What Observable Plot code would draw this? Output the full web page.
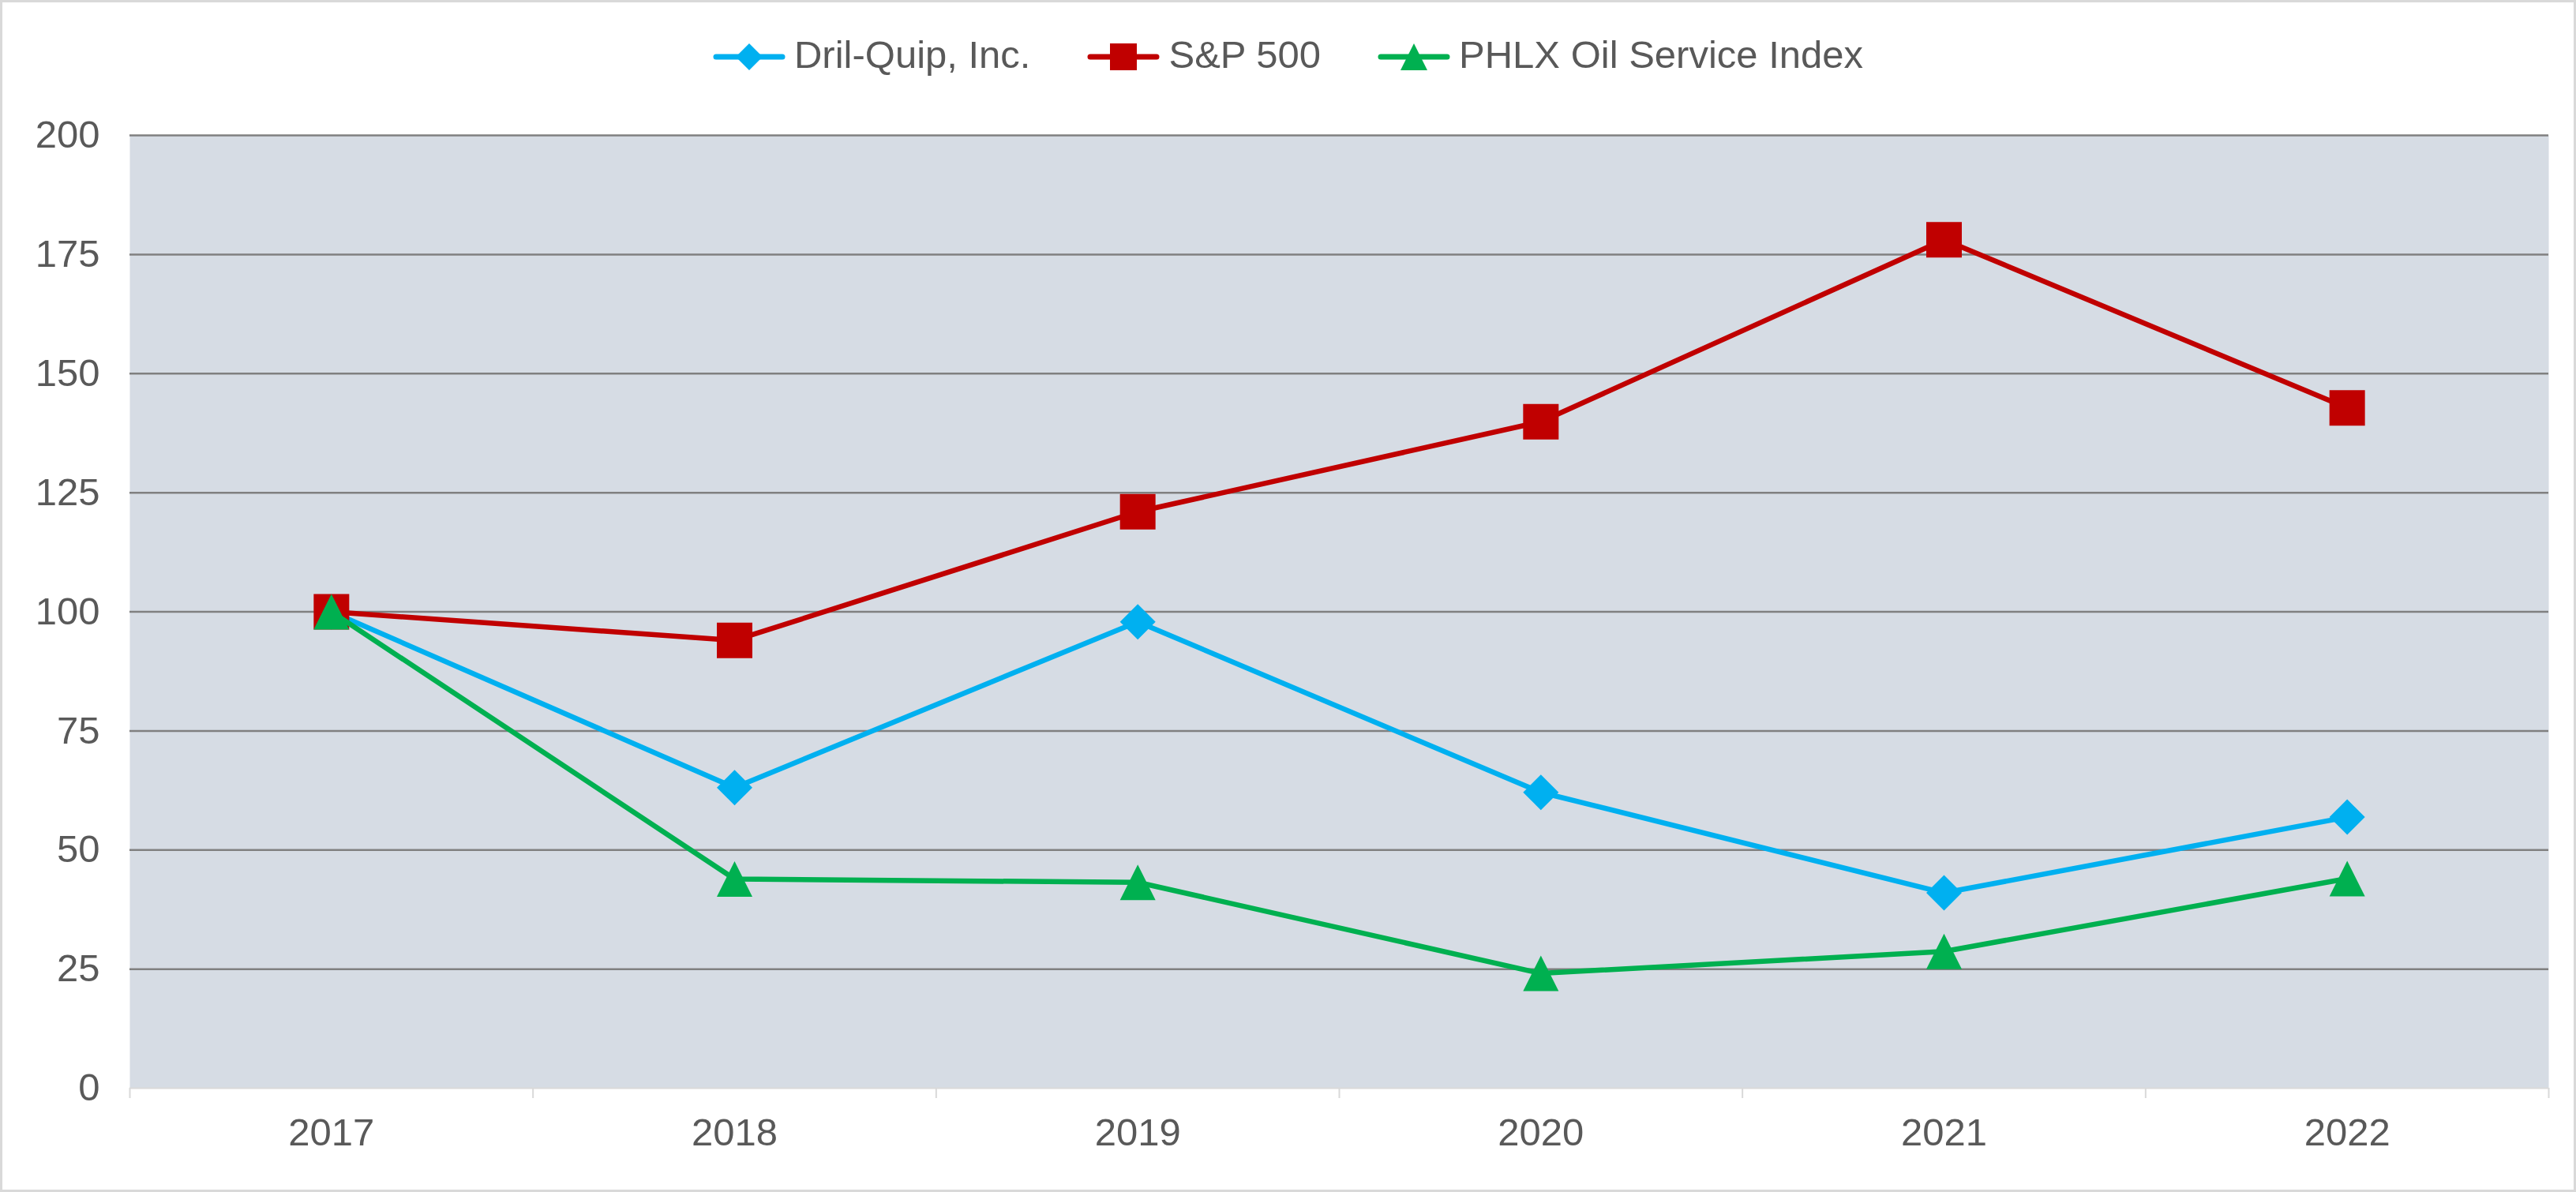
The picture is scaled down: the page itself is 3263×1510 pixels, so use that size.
<!DOCTYPE html>
<html>
<head>
<meta charset="utf-8">
<script src="https://cdn.jsdelivr.net/npm/d3@7"></script>
<script src="https://cdn.jsdelivr.net/npm/@observablehq/plot@0.6"></script>
<style>
  html, body { margin: 0; padding: 0; background: #fff; }
  #wrap { position: relative; width: 3263px; height: 1510px; background: #fff; overflow: hidden;
          font-family: "Liberation Sans", Arial, sans-serif; color: #595959; }
  #border { position: absolute; left: 0; top: 0; width: 3263px; height: 1510px; box-sizing: border-box;
            border: 3px solid #D9D9D9; pointer-events: none; }
  #legend { height: 140px; display: flex; justify-content: center; align-items: flex-start; }
  .item { display: flex; align-items: center; margin: 0 36px; margin-top: 52px; height: 40px; }
  .item span { font-size: 49px; line-height: 40px; margin-left: 11px; position: relative; top: -3px; white-space: nowrap; }
  #chart svg { display: block; }
</style>
</head>
<body>
<div id="wrap">
  <div id="legend"></div>
  <div id="chart"></div>
  <div id="border"></div>
</div>
<script>
// ---- data ----
const years = ["2017", "2018", "2019", "2020", "2021", "2022"];
const seriesNames = ["Dril-Quip, Inc.", "S&P 500", "PHLX Oil Service Index"];
const drilQuip = [100, 63.1, 97.9, 62.1, 41.0, 56.9];
const sp500 = [100, 94.0, 121.0, 139.9, 178.1, 142.8];
const phlx = [100, 43.9, 43.2, 24.1, 28.7, 44.0];
const yTicks = [0, 25, 50, 75, 100, 125, 150, 175, 200];
const colors = ["#00B0F0", "#C00000", "#00B050"];

// ---- custom marker symbols (bounding-box centred, like Excel markers) ----
const diamondSym = { draw(ctx, size) { const s = Math.sqrt(size) / 2;
  ctx.moveTo(0, -s); ctx.lineTo(s, 0); ctx.lineTo(0, s); ctx.lineTo(-s, 0); ctx.closePath(); } };
const squareSym = { draw(ctx, size) { const s = Math.sqrt(size) / 2;
  ctx.moveTo(-s, -s); ctx.lineTo(s, -s); ctx.lineTo(s, s); ctx.lineTo(-s, s); ctx.closePath(); } };
const triangleSym = { draw(ctx, size) { const s = Math.sqrt(size) / 2;
  ctx.moveTo(0, -s); ctx.lineTo(s, s); ctx.lineTo(-s, s); ctx.closePath(); } };
const symbols = [diamondSym, squareSym, triangleSym];
const valueSets = [drilQuip, sp500, phlx];

const series = valueSets.map((vals, k) =>
  vals.map((v, i) => ({ i, year: years[i], value: v, name: seriesNames[k] })));

// ---- legend (HTML above the SVG) ----
const legend = document.getElementById("legend");
seriesNames.forEach((name, k) => {
  const item = document.createElement("div");
  item.className = "item";
  const ns = "http://www.w3.org/2000/svg";
  const svg = document.createElementNS(ns, "svg");
  svg.setAttribute("width", 92); svg.setAttribute("height", 40);
  const line = document.createElementNS(ns, "line");
  line.setAttribute("x1", 4); line.setAttribute("x2", 88);
  line.setAttribute("y1", 20); line.setAttribute("y2", 20);
  line.setAttribute("stroke", colors[k]); line.setAttribute("stroke-width", 7);
  line.setAttribute("stroke-linecap", "round");
  svg.appendChild(line);
  const path = document.createElementNS(ns, "path");
  const p = d3.path();
  symbols[k].draw(p, 34 * 34);
  path.setAttribute("d", p.toString());
  path.setAttribute("transform", "translate(46,20)");
  path.setAttribute("fill", colors[k]);
  svg.appendChild(path);
  item.appendChild(svg);
  const span = document.createElement("span");
  span.textContent = name;
  item.appendChild(span);
  legend.appendChild(item);
});

// ---- chart ----
const boundaries = d3.range(years.length + 1).map(i => i - 0.5);
const markR = 45 / Math.sqrt(Math.PI); // symbol side ≈ 45px

const marks = [
  Plot.frame({ fill: "#D6DCE4", stroke: "none" }),
  Plot.gridY(yTicks.filter(v => v > 0), { stroke: "#808080", strokeOpacity: 1, strokeWidth: 2.5 }),
  Plot.ruleY([0], { stroke: "#D9D9D9", strokeWidth: 2 }),
  Plot.axisY(yTicks, { label: null, tickSize: 0, tickPadding: 38, fontSize: 49, fill: "#595959" }),
  Plot.axisX(boundaries, { label: null, tickSize: 13, stroke: "#D9D9D9", strokeWidth: 2, tickFormat: () => "" }),
  Plot.axisX(d3.range(years.length), { label: null, tickSize: 0, tickPadding: 38, fontSize: 49, fill: "#595959",
    tickFormat: i => years[i] })
];
series.forEach((data, k) => {
  marks.push(Plot.line(data, { x: "i", y: "value", stroke: colors[k], strokeWidth: 6.5, strokeLinejoin: "round" }));
  marks.push(Plot.dot(data, { x: "i", y: "value", symbol: symbols[k], fill: colors[k], stroke: "none", r: markR }));
});

const chart = Plot.plot({
  width: 3263,
  height: 1370,
  marginTop: 31,
  marginBottom: 132,
  marginLeft: 164,
  marginRight: 35,
  style: { fontFamily: "'Liberation Sans', Arial, sans-serif", background: "transparent", color: "#595959" },
  x: { type: "linear", domain: [-0.5, years.length - 0.5], axis: null, label: null },
  y: { domain: [0, 200], axis: null, label: null },
  marks
});
document.getElementById("chart").appendChild(chart);
</script>
</body>
</html>
